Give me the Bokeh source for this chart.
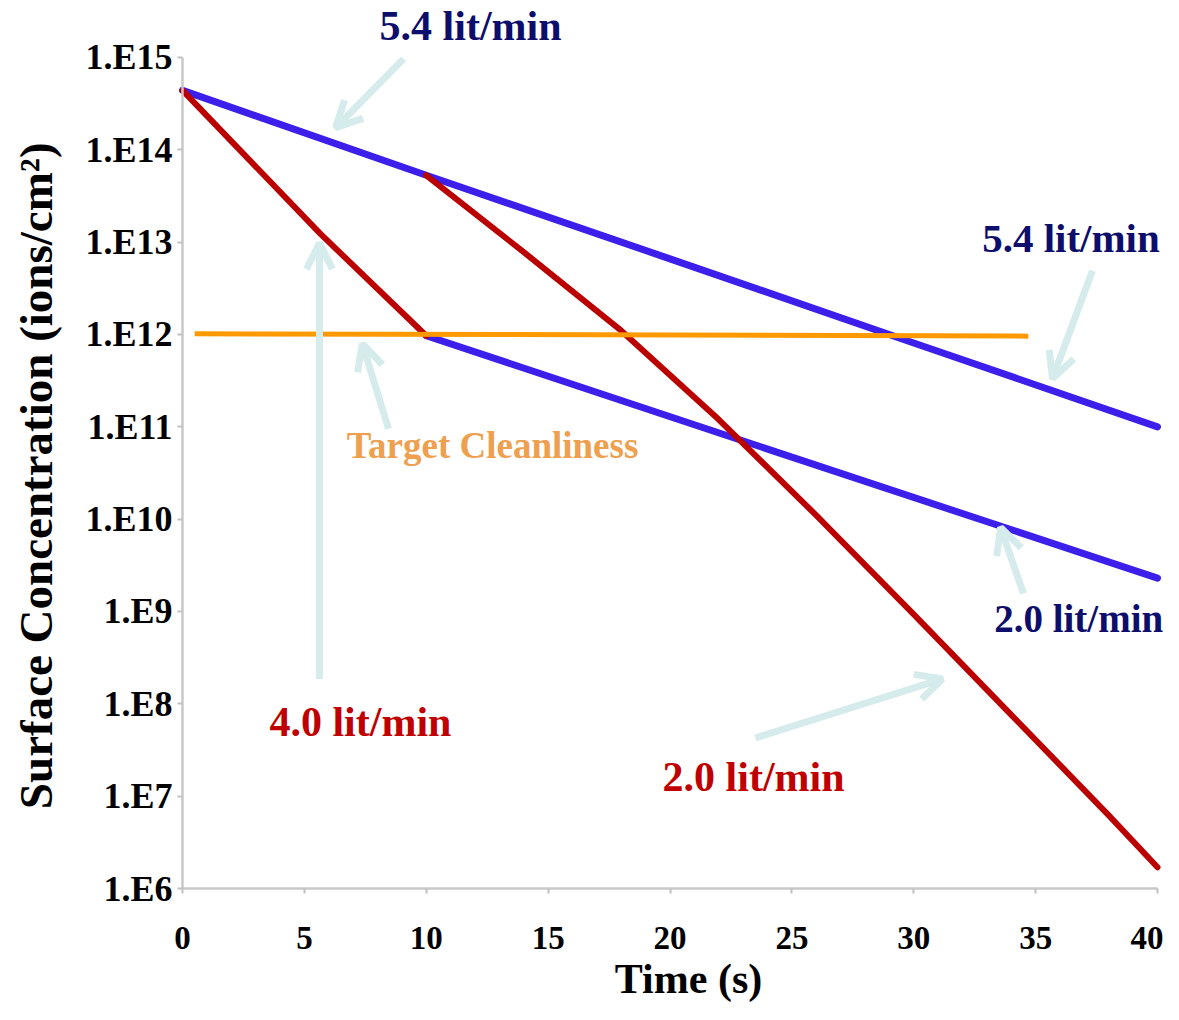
import math
from bokeh.plotting import figure
from bokeh.models import Range1d, FixedTicker, Label, Arrow, OpenHead
from bokeh.embed import file_html
from bokeh.resources import INLINE

# ---- data ----
time_54 = [0, 10, 20, 30, 40]
conc_54 = [4.4e14, 5.3e13, 6.6e12, 8.1e11, 1.0e11]

time_40 = [0, 5.66, 10]
conc_40 = [4.4e14, 1.23e13, 9.7e11]

time_20_red = [10, 14, 18, 22, 26, 30, 34, 38, 40]
conc_20_red = [5.3e13, 7.8e12, 1.1e12, 1.2e11, 1.1e10, 9.3e8, 7.6e7, 6.2e6, 1.7e6]

time_20_blue = [10, 25, 40]
conc_20_blue = [9.7e11, 4.7e10, 2.3e9]

time_target = [0.5, 34.7]
conc_target = [1.02e12, 0.96e12]

x_ticks = [0, 5, 10, 15, 20, 25, 30, 35, 40]
y_ticks = [1e6, 1e7, 1e8, 1e9, 1e10, 1e11, 1e12, 1e13, 1e14, 1e15]
y_tick_labels = ["1.E6", "1.E7", "1.E8", "1.E9", "1.E10", "1.E11",
                 "1.E12", "1.E13", "1.E14", "1.E15"]

FONT = "Liberation Serif"
NAVY = "#0d0d6b"
RED_TXT = "#c00000"
BLUE = "#3d1fec"
RED = "#bb0000"
ORANGE = "#ff9900"
ARROW = "#d6ecec"

# frame spans the whole canvas; axes are pinned at x=0 and y=1e6
p = figure(width=1163, height=1004, y_axis_type="log",
           x_range=Range1d(-7.4667, 40.246),
           y_range=Range1d(10 ** 4.7437, 10 ** 15.6173),
           output_backend="svg", toolbar_location=None, title_location=None,
           min_border=0, min_border_left=0, min_border_right=0,
           min_border_top=0, min_border_bottom=0)
p.outline_line_color = None
p.grid.visible = False
p.background_fill_color = "white"

# axes
p.xaxis.fixed_location = 1e6
p.yaxis.fixed_location = 0
p.xaxis.bounds = (0, 40)
p.yaxis.bounds = (1e6, 1e15)
p.xaxis.ticker = FixedTicker(ticks=x_ticks)
p.yaxis.ticker = FixedTicker(ticks=y_ticks)
p.yaxis.major_label_overrides = {t: l for t, l in zip(y_ticks, y_tick_labels)}
for ax in (p.xaxis, p.yaxis):
    ax.axis_line_color = "#c8c8c8"
    ax.axis_line_width = 2.5
    ax.major_tick_line_color = "#c0c0c0"
    ax.major_tick_line_width = 2
    ax.major_tick_in = 0
    ax.major_tick_out = 5
    ax.minor_tick_line_color = None
    ax.major_label_text_font = FONT
    ax.major_label_text_font_style = "bold"
    ax.major_label_text_color = "black"
p.yaxis.major_label_text_font_size = "36px"
p.yaxis.major_label_standoff = 5
p.xaxis.major_label_text_font_size = "33px"
p.xaxis.major_label_standoff = 33

# lines
p.line(time_54, conc_54, line_color=BLUE, line_width=7, line_cap="round")
p.line(time_20_blue, conc_20_blue, line_color=BLUE, line_width=7, line_cap="round")
p.line(time_40, conc_40, line_color=RED, line_width=6, line_cap="round",
       line_join="round")
p.line(time_20_red, conc_20_red, line_color=RED, line_width=6, line_cap="round",
       line_join="round")
p.line(time_target, conc_target, line_color=ORANGE, line_width=5)

# arrows (x_start, log10 y_start, x_end, log10 y_end)
arrows = [
    (9.07, 14.985, 6.28, 14.24),
    (37.33, 12.69, 35.69, 11.52),
    (5.62, 8.27, 5.62, 12.99),
    (8.45, 10.98, 7.38, 11.90),
    (34.5, 9.195, 33.56, 9.91),
    (23.5, 7.63, 31.18, 8.27),
]
for xs, ys, xe, ye in arrows:
    p.add_layout(Arrow(end=OpenHead(size=26, line_color=ARROW, line_width=7),
                       x_start=xs, y_start=10 ** ys, x_end=xe, y_end=10 ** ye,
                       line_color=ARROW, line_width=7))

# text labels
def lab(txt, x, logy, color, size, align="center", angle=0.0):
    p.add_layout(Label(x=x, y=10 ** logy, text=txt, text_color=color,
                       text_font=FONT, text_font_style="bold",
                       text_font_size=size, text_align=align,
                       text_baseline="middle", angle=angle))

lab("5.4 lit/min", 11.82, 15.342, NAVY, "42px")
lab("5.4 lit/min", 36.45, 13.048, NAVY, "41px")
lab("2.0 lit/min", 33.3, 8.924, NAVY, "39px", align="left")
lab("4.0 lit/min", 7.30, 7.80, RED_TXT, "42px")
lab("2.0 lit/min", 23.43, 7.204, RED_TXT, "42px")
lab("Target Cleanliness", 12.72, 10.797, "#eea04f", "37px")
lab("Time (s)", 20.76, 5.025, "black", "42px")
lab("Surface Concentration (ions/cm²)", -6.03, 10.47, "black", "47px",
    angle=math.pi / 2)

open("out.html", "w").write(file_html(p, INLINE))
